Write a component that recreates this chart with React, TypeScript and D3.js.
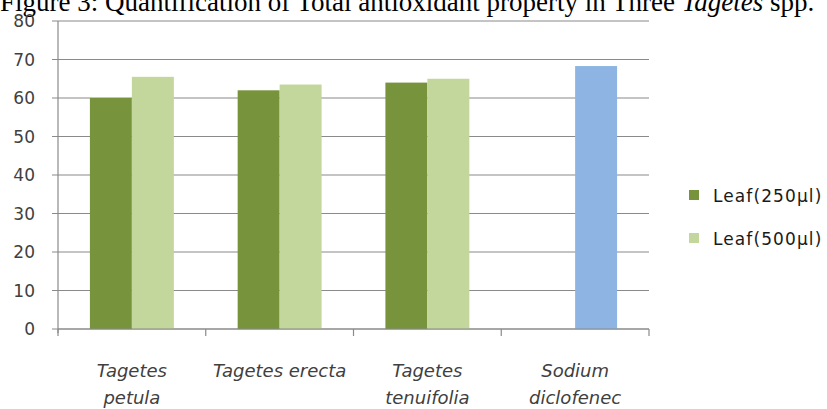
import React from "react";
import * as d3 from "d3";

const categories = [["Tagetes", "petula"], ["Tagetes erecta"], ["Tagetes", "tenuifolia"], ["Sodium", "diclofenec"]];
const categoryKeys = ["Tagetes petula", "Tagetes erecta", "Tagetes tenuifolia", "Sodium diclofenec"];
const seriesNames = ["Leaf(250µl)", "Leaf(500µl)"];
const leaf250: (number | null)[] = [60, 62, 64, null];
const leaf500: (number | null)[] = [65.5, 63.5, 65, 68.3];
const yTicks = [0, 10, 20, 30, 40, 50, 60, 70, 80];
const seriesColors = ["#77933C", "#C3D69B"];
const standardColor = "#8DB4E2";
const title = "Figure 3: Quantification of Total antioxidant property in Three ";

const W = 827;
const H = 409;
const left = 58;
const right = 649;
const top = 21;
const bottom = 329;

export default function App() {
  const y = d3.scaleLinear().domain([0, 80]).range([bottom, top]);
  const x0 = d3.scaleBand<string>().domain(categoryKeys).range([left, right]).paddingInner(0).paddingOuter(0);
  const x1 = d3.scaleBand<string>().domain(seriesNames).range([0, x0.bandwidth()]).paddingInner(0).paddingOuter(0.76);
  const seriesData = [leaf250, leaf500];
  const gridColor = "#8a8a8a";
  const textColor = "#404040";

  return (
    <svg width={W} height={H} style={{ position: "absolute", left: 0, top: 0, background: "#fff" }}>
      <text x={0} y={11} fontFamily="'Liberation Serif', 'Times New Roman', serif" fontSize={27} fill="#000">
        {title}
        <tspan fontStyle="italic">Tagetes</tspan>
        <tspan> spp.</tspan>
      </text>
      {yTicks.map((t) => (
        <g key={t}>
          <line x1={left - 6} x2={right} y1={y(t)} y2={y(t)} stroke={gridColor} strokeWidth={1.2} />
          <text x={35} y={y(t) + 6} textAnchor="end" fontFamily="'DejaVu Sans', sans-serif" fontSize={17} fill={textColor}>
            {t}
          </text>
        </g>
      ))}
      {seriesData.map((arr, si) =>
        arr.map((v, ci) =>
          v == null ? null : (
            <rect
              key={`${si}-${ci}`}
              x={(x0(categoryKeys[ci]) as number) + (x1(seriesNames[si]) as number)}
              y={y(v)}
              width={x1.bandwidth()}
              height={bottom - y(v)}
              fill={ci === 3 ? standardColor : seriesColors[si]}
            />
          )
        )
      )}
      <line x1={left} x2={left} y1={top} y2={bottom + 4} stroke={gridColor} strokeWidth={1.2} />
      <line x1={left} x2={right} y1={bottom} y2={bottom} stroke={gridColor} strokeWidth={1.2} />
      {[...categoryKeys.map((c) => x0(c) as number), right].map((xv, i) => (
        <line key={i} x1={xv} x2={xv} y1={bottom} y2={bottom + 7} stroke={gridColor} strokeWidth={1.2} />
      ))}
      {categories.map((lines, ci) => {
        const cx = (x0(categoryKeys[ci]) as number) + x0.bandwidth() / 2;
        return (
          <text key={ci} textAnchor="middle" fontFamily="'DejaVu Sans', sans-serif" fontStyle="italic" fontSize={18} fill={textColor}>
            {lines.map((l, li) => (
              <tspan key={li} x={cx} y={377 + li * 27}>
                {l}
              </tspan>
            ))}
          </text>
        );
      })}
      {seriesNames.map((s, i) => (
        <g key={s} transform={`translate(689, ${190 + i * 43})`}>
          <rect x={0} y={0} width={10} height={10} fill={seriesColors[i]} />
          <text x={24} y={12} fontFamily="'DejaVu Sans', sans-serif" fontSize={17} letterSpacing={1.1} fill="#1a1a1a">
            {s}
          </text>
        </g>
      ))}
    </svg>
  );
}
